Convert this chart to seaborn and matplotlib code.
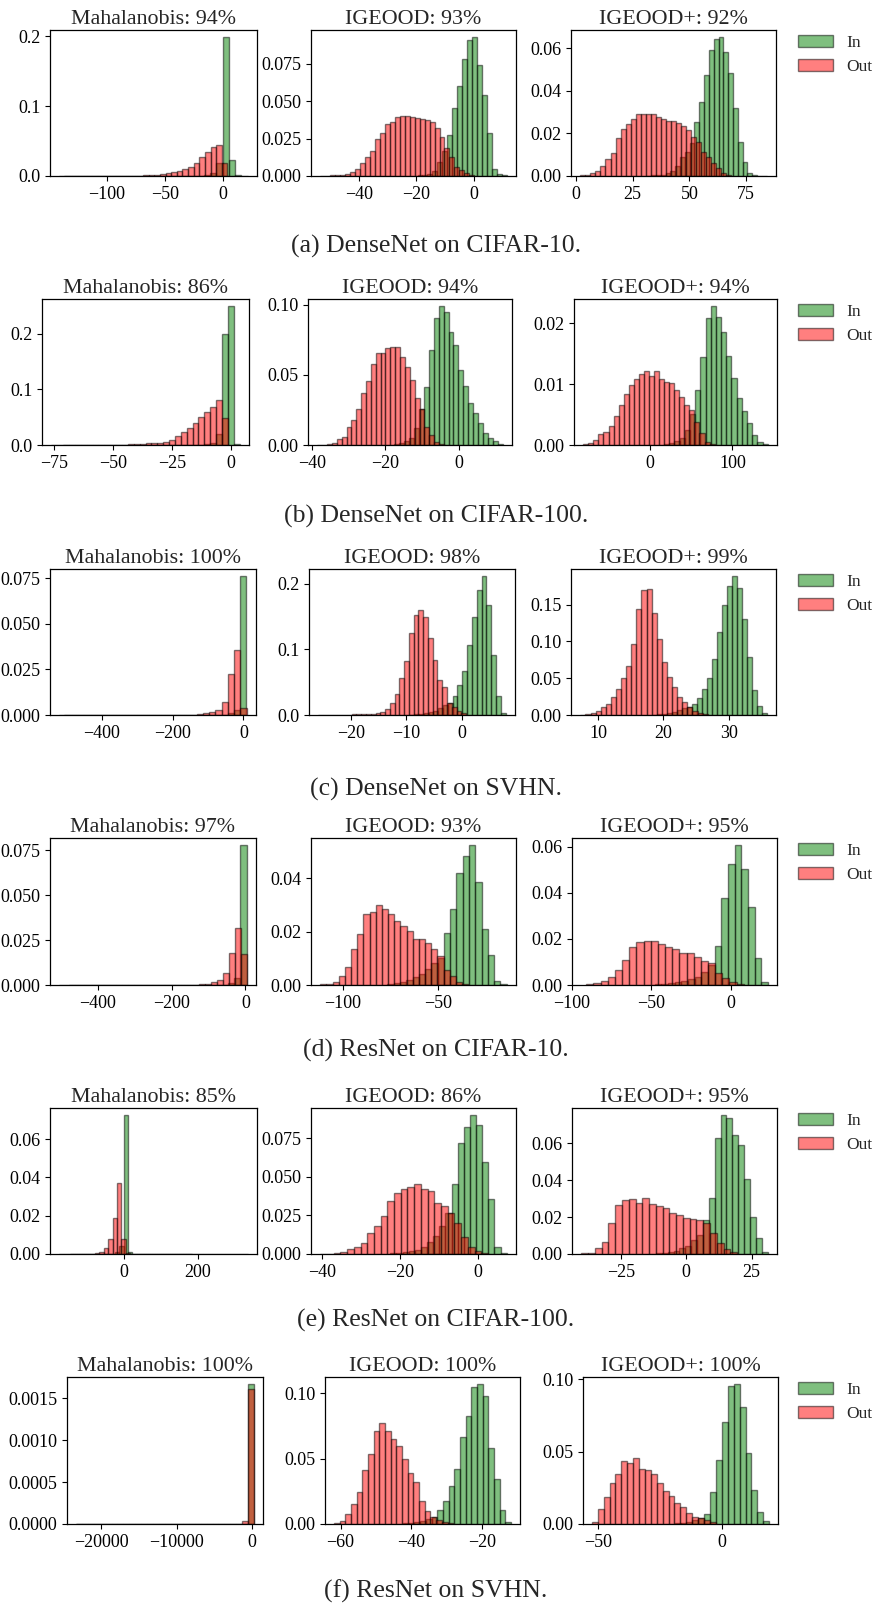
import numpy as np
import matplotlib
matplotlib.use('Agg')
import matplotlib.pyplot as plt
import seaborn as sns
from matplotlib.patches import Patch

# ---- data: (lo, hi) bin range + bar heights (density) ----
methods = ['Mahalanobis', 'IGEOOD', 'IGEOOD+']
captions = ['(a) DenseNet on CIFAR-10.', '(b) DenseNet on CIFAR-100.', '(c) DenseNet on SVHN.',
            '(d) ResNet on CIFAR-10.', '(e) ResNet on CIFAR-100.', '(f) ResNet on SVHN.']
dn_c10_scores = [94, 93, 92]
dn_c100_scores = [86, 94, 94]
dn_svhn_scores = [100, 98, 99]
rn_c10_scores = [97, 93, 95]
rn_c100_scores = [85, 86, 95]
rn_svhn_scores = [100, 100, 100]

# (a) DenseNet CIFAR-10
dn_c10_maha_in_rng = (-141, 21)
dn_c10_maha_in = [0] * 21 + [0.0002, 0.0004, 0.001, 0.004, 0.018, 0.199, 0.023, 0.0015, 0.0003]
dn_c10_maha_out_rng = (-137, 3.7)
dn_c10_maha_out = [0.00002, 0.00002, 0.00003, 0.00005, 0.00005, 0.00008, 0.0001, 0.0001, 0.00015,
                   0.0002, 0.0003, 0.0004, 0.0005, 0.0007, 0.001, 0.0014, 0.0019, 0.0024, 0.0038,
                   0.0052, 0.0071, 0.01, 0.0133, 0.018, 0.0267, 0.0348, 0.0419, 0.0438, 0.018]
dn_c10_ig_in_rng = (-19.6, 11.5)
dn_c10_ig_in = [0.0004, 0.0008, 0.0015, 0.0036, 0.0096, 0.017, 0.0275, 0.0453, 0.0605, 0.078,
                0.091, 0.093, 0.074, 0.054, 0.0285, 0.0045, 0.0013, 0.0004]
dn_c10_ig_out_rng = (-53.5, 0.2)
dn_c10_ig_out = [0.0001, 0.0002, 0.0004, 0.0008, 0.001, 0.0015, 0.0029, 0.0047, 0.0085, 0.0125,
                 0.017, 0.0245, 0.0285, 0.0348, 0.0363, 0.0397, 0.040, 0.0404, 0.0397, 0.0386,
                 0.0382, 0.0375, 0.0363, 0.0319, 0.0263, 0.0185, 0.0125, 0.0062, 0.004, 0.0018, 0.0007]
dn_c10_igp_in_rng = (31.0, 84.0)
dn_c10_igp_in = [0.0002, 0.0003, 0.0004, 0.0006, 0.0012, 0.0025, 0.0048, 0.009, 0.0113, 0.0153,
                 0.0254, 0.0348, 0.0473, 0.0593, 0.0644, 0.0652, 0.0582, 0.0485, 0.0317, 0.0158,
                 0.0064, 0.0016, 0.0004, 0.0001, 0.00005]
dn_c10_igp_out_rng = (2.0, 68.4)
dn_c10_igp_out = [0.0003, 0.0006, 0.0012, 0.0025, 0.0047, 0.0078, 0.0106, 0.018, 0.0222, 0.0246,
                  0.0267, 0.0293, 0.0289, 0.0293, 0.029, 0.0275, 0.0267, 0.0257, 0.0257, 0.025,
                  0.0234, 0.0215, 0.0184, 0.0158, 0.0114, 0.009, 0.0059, 0.0036, 0.0016, 0.0006]

# (b) DenseNet CIFAR-100
dn_c100_maha_in_rng = (-71.25, 3.75)
dn_c100_maha_in = [0] * 22 + [0.0003, 0.0007, 0.0015, 0.004, 0.02, 0.2, 0.25, 0.002]
dn_c100_maha_out_rng = (-76.25, -1.25)
dn_c100_maha_out = [0.0001] * 9 + [0.0002, 0.0003, 0.0005, 0.0008, 0.0012, 0.0018, 0.0025, 0.003,
                                   0.0036, 0.0042, 0.006, 0.009, 0.016, 0.024, 0.03, 0.039, 0.051,
                                   0.06, 0.069, 0.081, 0.048]
dn_c100_ig_in_rng = (-17.5, 12.0)
dn_c100_ig_in = [0.0005, 0.0012, 0.0025, 0.005, 0.012, 0.026, 0.0417, 0.0679, 0.0905, 0.0993,
                 0.0952, 0.081, 0.0714, 0.0536, 0.0421, 0.0302, 0.0226, 0.0155, 0.0083, 0.0048,
                 0.003, 0.0007]
dn_c100_ig_out_rng = (-38.5, -4.0)
dn_c100_ig_out = [0.0001, 0.0002, 0.0007, 0.0017, 0.0043, 0.0055, 0.0131, 0.0179, 0.0255, 0.0369,
                  0.046, 0.0579, 0.066, 0.066, 0.0695, 0.0698, 0.0698, 0.0626, 0.056, 0.0464,
                  0.0333, 0.026, 0.013, 0.0071, 0.0024, 0.0007]
dn_c100_igp_in_rng = (17.0, 143.0)
dn_c100_igp_in = [0.0001, 0.0003, 0.0006, 0.0012, 0.0025, 0.0051, 0.009, 0.0145, 0.0208, 0.0228,
                  0.021, 0.0186, 0.0146, 0.011, 0.0077, 0.0055, 0.0036, 0.0016, 0.0005, 0.0002]
dn_c100_igp_out_rng = (-81.1, 78.5)
dn_c100_igp_out = [0.0001, 0.0003, 0.0009, 0.0018, 0.0022, 0.0031, 0.0048, 0.0066, 0.0083, 0.0099,
                   0.0108, 0.0116, 0.0122, 0.0113, 0.0122, 0.0108, 0.0104, 0.0101, 0.009, 0.0079,
                   0.0065, 0.0058, 0.0037, 0.0019, 0.0005, 0.0002]

# (c) DenseNet SVHN
dn_svhn_maha_in_rng = (-505, 8)
dn_svhn_maha_in = [0] * 27 + [0.001, 0.003, 0.0762]
dn_svhn_maha_out_rng = (-519, 9)
dn_svhn_maha_out = [0] * 14 + [0.00005, 0.00005, 0.0001, 0.0001, 0.0001, 0.0001, 0.0001, 0.0002,
                               0.0004, 0.0009, 0.0015, 0.0027, 0.0073, 0.0225, 0.0357, 0.0037]
dn_svhn_ig_in_rng = (-9.5, 7.9)
dn_svhn_ig_in = [0.0004, 0.0008, 0.0015, 0.0025, 0.004, 0.0066, 0.0102, 0.0145, 0.019, 0.029,
                 0.0456, 0.0668, 0.106, 0.149, 0.191, 0.212, 0.167, 0.091, 0.029, 0.0036]
dn_svhn_ig_out_rng = (-25.9, 0.76)
dn_svhn_ig_out = [0.0001, 0.0001, 0.0002, 0.0002, 0.0003, 0.0005, 0.0005, 0.001, 0.001, 0.0015,
                  0.0015, 0.002, 0.0035, 0.005, 0.0086, 0.0187, 0.0314, 0.0557, 0.082, 0.125,
                  0.153, 0.16, 0.149, 0.1175, 0.0846, 0.054, 0.042, 0.0187, 0.0127, 0.0066, 0.0035]
dn_svhn_igp_in_rng = (18.28, 35.83)
dn_svhn_igp_in = [0.0005, 0.0009, 0.0018, 0.0032, 0.0046, 0.0069, 0.009, 0.0114, 0.015, 0.0229,
                  0.0352, 0.0503, 0.0764, 0.113, 0.149, 0.176, 0.189, 0.1725, 0.131, 0.079,
                  0.0334, 0.0124, 0.0023]
dn_svhn_igp_out_rng = (7.3, 26.8)
dn_svhn_igp_out = [0.0005, 0.0012, 0.003, 0.0055, 0.0105, 0.0155, 0.025, 0.036, 0.05, 0.066,
                   0.096, 0.144, 0.17, 0.171, 0.138, 0.103, 0.0727, 0.052, 0.0386, 0.025,
                   0.018, 0.0114, 0.006, 0.003, 0.0014]

# (d) ResNet CIFAR-10
rn_c10_maha_in_rng = (-505, 3.5)
rn_c10_maha_in = [0] * 27 + [0.001, 0.004, 0.0778]
rn_c10_maha_out_rng = (-480, 3.5)
rn_c10_maha_out = [0] * 14 + [0.00005, 0.00005, 0.00005, 0.0001, 0.0001, 0.0001, 0.0001, 0.0001,
                              0.0003, 0.0007, 0.0015, 0.0028, 0.0065, 0.0176, 0.0315, 0.017]
rn_c10_ig_in_rng = (-76.5, -13.8)
rn_c10_ig_in = [0.0004, 0.0008, 0.0013, 0.002, 0.003, 0.0042, 0.006, 0.0082, 0.0101, 0.0196,
                0.0284, 0.0419, 0.0482, 0.0524, 0.0385, 0.0208, 0.0114, 0.0015, 0.0005]
rn_c10_ig_out_rng = (-111.8, -34.04)
rn_c10_ig_out = [0.0003, 0.0004, 0.0013, 0.0035, 0.0066, 0.0135, 0.0192, 0.0267, 0.0274, 0.0299,
                 0.0284, 0.0265, 0.024, 0.0221, 0.0202, 0.0174, 0.0174, 0.0158, 0.0136, 0.0107,
                 0.0057, 0.0032, 0.0013, 0.0005]
rn_c10_igp_in_rng = (-48.0, 23.4)
rn_c10_igp_in = [0.0003, 0.0005, 0.0008, 0.0012, 0.0018, 0.0025, 0.0035, 0.0058, 0.0087, 0.0171,
                 0.0379, 0.0524, 0.0607, 0.0502, 0.034, 0.0116, 0.0012]
rn_c10_igp_out_rng = (-91.0, 8.2)
rn_c10_igp_out = [0.0003, 0.0007, 0.0017, 0.0036, 0.0065, 0.0108, 0.0166, 0.0188, 0.0192, 0.0191,
                  0.0176, 0.0163, 0.0156, 0.0137, 0.0137, 0.0123, 0.0104, 0.0094, 0.0051, 0.0032,
                  0.0014, 0.0006]

# (e) ResNet CIFAR-100
rn_c100_maha_in_rng = (-145, 335)
rn_c100_maha_in = [0] * 10 + [0.0008, 0.004, 0.0727, 0.0008, 0.0002] + [0] * 24 + [0.00002]
rn_c100_maha_out_rng = (-175, 185)
rn_c100_maha_out = [0, 0, 0, 0, 0.00005, 0.00005, 0.0001, 0.0002, 0.0005, 0.0012, 0.003, 0.0077,
                    0.0187, 0.0373, 0.0077, 0.0005, 0.0001] + [0] * 13
rn_c100_ig_in_rng = (-22.5, 7.52)
rn_c100_ig_in = [0.0004, 0.0008, 0.0012, 0.0018, 0.0028, 0.0045, 0.0075, 0.012, 0.018, 0.0268,
                 0.0454, 0.0718, 0.0822, 0.0902, 0.0837, 0.0599, 0.0355, 0.0048, 0.0009]
rn_c100_ig_out_rng = (-40.56, 2.69)
rn_c100_ig_out = [0.0001, 0.0003, 0.0006, 0.0013, 0.0032, 0.0048, 0.0074, 0.0134, 0.0182, 0.0247,
                  0.0346, 0.0394, 0.042, 0.0432, 0.0454, 0.042, 0.041, 0.0329, 0.0311, 0.0264,
                  0.0199, 0.0112, 0.0048, 0.0019, 0.0006]
rn_c100_igp_in_rng = (-11.6, 31.15)
rn_c100_igp_in = [0.0003, 0.0006, 0.001, 0.0018, 0.003, 0.0045, 0.0075, 0.0105, 0.0185, 0.0302,
                  0.0627, 0.0754, 0.0736, 0.0645, 0.0591, 0.0405, 0.0202, 0.0085, 0.0013]
rn_c100_igp_out_rng = (-40.1, 19.47)
rn_c100_igp_out = [0.0004, 0.0007, 0.0031, 0.0067, 0.017, 0.0266, 0.0293, 0.0296, 0.0278, 0.0302,
                   0.0271, 0.026, 0.0248, 0.0224, 0.0211, 0.0193, 0.0188, 0.0184, 0.017, 0.0112,
                   0.0058, 0.0025, 0.0011]

# (f) ResNet SVHN
rn_svhn_maha_in_rng = (-23400, 300)
rn_svhn_maha_in = [0] * 29 + [0.00167]
rn_svhn_maha_out_rng = (-23400, 300)
rn_svhn_maha_out = [0] * 28 + [0.00003, 0.00161]
rn_svhn_ig_in_rng = (-42.3, -11.7)
rn_svhn_ig_in = [0.0004, 0.0007, 0.0012, 0.002, 0.0035, 0.005, 0.0108, 0.0172, 0.0287, 0.042,
                 0.0667, 0.0826, 0.1044, 0.1069, 0.0974, 0.0582, 0.0344, 0.0108, 0.0018]
rn_svhn_ig_out_rng = (-61.9, -28.1)
rn_svhn_ig_out = [0.0005, 0.0026, 0.0077, 0.0154, 0.0241, 0.041, 0.0531, 0.071, 0.0769, 0.071,
                  0.0651, 0.0595, 0.0497, 0.039, 0.0318, 0.0172, 0.0103, 0.0056, 0.0031, 0.0015,
                  0.0005]
rn_svhn_igp_in_rng = (-19.0, 19.1)
rn_svhn_igp_in = [0.0004, 0.0008, 0.0015, 0.0025, 0.004, 0.0069, 0.0224, 0.0442, 0.0707, 0.0954,
                  0.0968, 0.0806, 0.0493, 0.0235, 0.0085, 0.0023]
rn_svhn_igp_out_rng = (-52.4, -2.42)
rn_svhn_igp_out = [0.0016, 0.0101, 0.0189, 0.0286, 0.0346, 0.0438, 0.0424, 0.0454, 0.0378, 0.0373,
                   0.0346, 0.0286, 0.023, 0.0194, 0.0147, 0.012, 0.0078, 0.0051, 0.0039, 0.0028,
                   0.0014]

# tick labels shown on each panel
xticks = [
    [[-100, -50, 0], [-40, -20, 0], [0, 25, 50, 75]],
    [[-75, -50, -25, 0], [-40, -20, 0], [0, 100]],
    [[-400, -200, 0], [-20, -10, 0], [10, 20, 30]],
    [[-400, -200, 0], [-100, -50], [-100, -50, 0]],
    [[0, 200], [-40, -20, 0], [-25, 0, 25]],
    [[-20000, -10000, 0], [-60, -40, -20], [-50, 0]],
]
yticks = [
    [[0, 0.1, 0.2], [0, 0.025, 0.05, 0.075], [0, 0.02, 0.04, 0.06]],
    [[0, 0.1, 0.2], [0, 0.05, 0.10], [0, 0.01, 0.02]],
    [[0, 0.025, 0.05, 0.075], [0, 0.1, 0.2], [0, 0.05, 0.10, 0.15]],
    [[0, 0.025, 0.05, 0.075], [0, 0.02, 0.04], [0, 0.02, 0.04, 0.06]],
    [[0, 0.02, 0.04, 0.06], [0, 0.025, 0.05, 0.075], [0, 0.02, 0.04, 0.06]],
    [[0, 0.0005, 0.0010, 0.0015], [0, 0.05, 0.10], [0, 0.05, 0.10]],
]

rows = [
    (dn_c10_scores, [(dn_c10_maha_in_rng, dn_c10_maha_in, dn_c10_maha_out_rng, dn_c10_maha_out),
                     (dn_c10_ig_in_rng, dn_c10_ig_in, dn_c10_ig_out_rng, dn_c10_ig_out),
                     (dn_c10_igp_in_rng, dn_c10_igp_in, dn_c10_igp_out_rng, dn_c10_igp_out)]),
    (dn_c100_scores, [(dn_c100_maha_in_rng, dn_c100_maha_in, dn_c100_maha_out_rng, dn_c100_maha_out),
                      (dn_c100_ig_in_rng, dn_c100_ig_in, dn_c100_ig_out_rng, dn_c100_ig_out),
                      (dn_c100_igp_in_rng, dn_c100_igp_in, dn_c100_igp_out_rng, dn_c100_igp_out)]),
    (dn_svhn_scores, [(dn_svhn_maha_in_rng, dn_svhn_maha_in, dn_svhn_maha_out_rng, dn_svhn_maha_out),
                      (dn_svhn_ig_in_rng, dn_svhn_ig_in, dn_svhn_ig_out_rng, dn_svhn_ig_out),
                      (dn_svhn_igp_in_rng, dn_svhn_igp_in, dn_svhn_igp_out_rng, dn_svhn_igp_out)]),
    (rn_c10_scores, [(rn_c10_maha_in_rng, rn_c10_maha_in, rn_c10_maha_out_rng, rn_c10_maha_out),
                     (rn_c10_ig_in_rng, rn_c10_ig_in, rn_c10_ig_out_rng, rn_c10_ig_out),
                     (rn_c10_igp_in_rng, rn_c10_igp_in, rn_c10_igp_out_rng, rn_c10_igp_out)]),
    (rn_c100_scores, [(rn_c100_maha_in_rng, rn_c100_maha_in, rn_c100_maha_out_rng, rn_c100_maha_out),
                      (rn_c100_ig_in_rng, rn_c100_ig_in, rn_c100_ig_out_rng, rn_c100_ig_out),
                      (rn_c100_igp_in_rng, rn_c100_igp_in, rn_c100_igp_out_rng, rn_c100_igp_out)]),
    (rn_svhn_scores, [(rn_svhn_maha_in_rng, rn_svhn_maha_in, rn_svhn_maha_out_rng, rn_svhn_maha_out),
                      (rn_svhn_ig_in_rng, rn_svhn_ig_in, rn_svhn_ig_out_rng, rn_svhn_ig_out),
                      (rn_svhn_igp_in_rng, rn_svhn_igp_in, rn_svhn_igp_out_rng, rn_svhn_igp_out)]),
]

# ---- layout (pixels of the 873x1604 picture) ----
W, H = 873, 1604
row_px = [(30, 176), (299, 445), (569, 715), (838, 985), (1108, 1254), (1377, 1524)]
col_px = [
    [(50, 257), (311, 516), (571, 776)],
    [(42, 249), (308, 512), (574, 777)],
    [(50, 256), (309, 515), (571, 776)],
    [(50, 256), (311, 516), (572, 777)],
    [(50, 257), (311, 516), (572, 777)],
    [(67, 263), (325, 520), (583, 778)],
]
caption_y = [246, 516, 789, 1050, 1320, 1591]

sns.set_style('ticks')
plt.rcParams['font.family'] = ['Liberation Serif', 'DejaVu Serif']
plt.rcParams['axes.edgecolor'] = 'black'
plt.rcParams['axes.linewidth'] = 0.9
plt.rcParams['xtick.color'] = 'black'
plt.rcParams['ytick.color'] = 'black'
plt.rcParams['xtick.major.size'] = 3.5
plt.rcParams['ytick.major.size'] = 3.5

fig = plt.figure(figsize=(W / 100, H / 100), dpi=100)


def draw_hist(ax, rng, heights, color):
    n = len(heights)
    step = (rng[1] - rng[0]) / n
    centers = rng[0] + step * (np.arange(n) + 0.5)
    sns.histplot(x=centers, weights=np.asarray(heights, dtype=float), bins=n, binrange=rng,
                 color=color, alpha=0.5, edgecolor=(0, 0, 0, 0.5), linewidth=1, ax=ax)


for r, (scores, panels) in enumerate(rows):
    top, bot = row_px[r]
    for c, (in_rng, in_h, out_rng, out_h) in enumerate(panels):
        left, right = col_px[r][c]
        ax = fig.add_axes([left / W, 1 - bot / H, (right - left) / W, (bot - top) / H])
        draw_hist(ax, in_rng, in_h, 'green')
        draw_hist(ax, out_rng, out_h, 'red')
        ax.set_xticks(xticks[r][c])
        ax.set_yticks(yticks[r][c])
        ax.tick_params(labelsize=13)
        ax.set_xlabel('')
        ax.set_ylabel('')
        ax.set_title(f'{methods[c]}: {scores[c]}%', fontsize=15.8, pad=4)
    handles = [Patch(facecolor=(0, 0.5, 0, 0.5), edgecolor=(0, 0, 0, 0.5)),
               Patch(facecolor=(1, 0, 0, 0.5), edgecolor=(0, 0, 0, 0.5))]
    fig.legend(handles, ['In', 'Out'], loc='upper left', bbox_to_anchor=(798 / W, 1 - (top + 5) / H),
               frameon=False, borderaxespad=0, borderpad=0, fontsize=12.5, handlelength=2.0,
               handleheight=0.7, handletextpad=0.8, labelspacing=0.45)
    fig.text(436 / W, 1 - caption_y[r] / H, captions[r], ha='center', va='center', fontsize=18.5)

fig.savefig('out.png', dpi=100)
